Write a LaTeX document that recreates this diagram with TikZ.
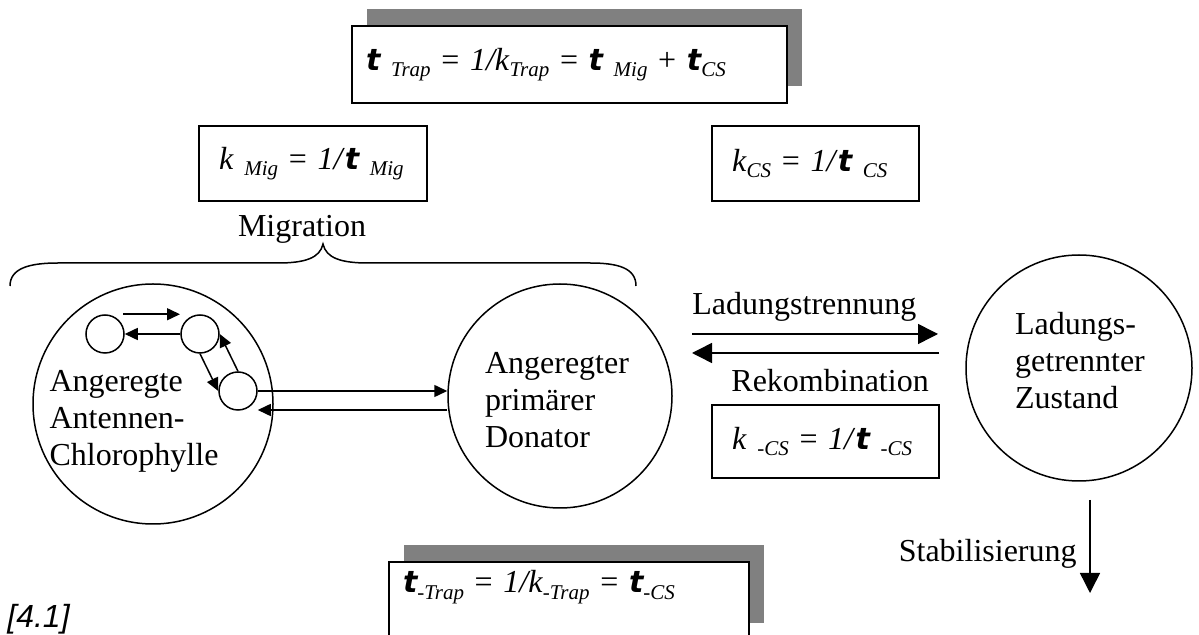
\documentclass[tikz,border=0pt]{standalone}
\usepackage{fontspec}
\setmainfont{Liberation Serif}
\setsansfont{Liberation Sans}
\newfontfamily\taufont{DejaVu Sans}
\usetikzlibrary{positioning, arrows.meta, calc, shadows}

\newcommand{\tsym}{{\fontsize{15}{15}\taufont\bfseries\itshape t}}
\newcommand{\idx}[1]{\raisebox{-3pt}{\fontsize{10.5}{10.5}\selectfont\itshape #1}}

\begin{document}
\begin{tikzpicture}[
        x=0.5pt, y=-0.5pt,
        >={Triangle[length=6.5pt, width=6pt]},
        every node/.style={font=\fontsize{16}{18.5}\selectfont},
        txt/.style={inner sep=0pt, align=left},
        state/.style={circle, draw, line width=0.75pt, inner sep=0pt},
        pigment/.style={circle, draw, line width=0.75pt, minimum size=19pt, inner sep=0pt},
        ratebox/.style={rectangle, draw, line width=0.9pt, align=left, inner xsep=10pt, inner ysep=0pt, fill=white},
        shadowbox/.style={ratebox, inner xsep=7pt, drop shadow={shadow xshift=7.5pt, shadow yshift=8.5pt, fill=black!50, opacity=1}},
        bigarrow/.style={->, line width=0.75pt, >={Triangle[length=10pt, width=10pt]}},
        link/.style={->, line width=0.75pt}
    ]
        \useasboundingbox (0,0) rectangle (1199,635);

        % Nodes
        \node[shadowbox, text width=203.5pt, minimum height=38.5pt] (trapTop) at (569.5,64.5)
            {\tsym{} \idx{Trap} = \textit{1/k}\idx{Trap} = \tsym{} \idx{Mig} + \tsym\idx{CS}};
        \node[ratebox, text width=94pt, minimum height=37.5pt] (kMig) at (313,163.5)
            {\textit{k} \idx{Mig} = \textit{1/}\tsym{} \idx{Mig}};
        \node[ratebox, text width=83.5pt, minimum height=37.5pt] (kCS) at (815.5,163.5)
            {\textit{k}\idx{CS} = \textit{1/}\tsym{} \idx{CS}};

        \node[state, minimum size=120pt] (antenna) at (153,404) {};
        \node[txt] (antennaText) at (134,421) {Angeregte\\Antennen-\\Chlorophylle};
        \node[pigment] (c1) at (105,334) {};
        \node[pigment] (c2) at (200,334) {};
        \node[pigment] (c3) at (238,391) {};

        \node[state, minimum size=112pt] (donor) at (560,396) {};
        \node[txt] (donorText) at ($(donor)+(-3,4)$) {Angeregter\\primärer\\Donator};

        \node[state, minimum size=113pt] (csState) at (1079,368) {};
        \node[txt] (csText) at ($(csState)+(1,-7)$) {Ladungs-\\getrennter\\Zustand};

        \node[ratebox, text width=93.5pt, minimum height=36.5pt] (kMinusCS) at (825.5,441.5)
            {\textit{k} \idx{-CS} = \textit{1/}\tsym{} \idx{-CS}};
        \node[shadowbox, text width=166pt, minimum height=39pt, text height=11pt, text depth=19pt] (trapBottom) at (569,601)
            {\tsym\idx{-Trap} = \textit{1/k}\idx{-Trap} = \tsym\idx{-CS}};

        \node[txt] (migLabel) at (302,229) {Migration};
        \node[txt, anchor=base west] (sepLabel) at (692,315) {Ladungstrennung};
        \node[txt, anchor=base west] (recLabel) at (731,392) {Rekombination};
        \node[txt, anchor=base east] (stabLabel) at (1077,562) {Stabilisierung};
        \node[txt, anchor=base west] (refLabel) at (7,627) {\sffamily\itshape [4.1]};

        \coordinate (sepFrom) at (692,334);
        \coordinate (sepTo) at (938,334);
        \coordinate (recFrom) at (939,353);
        \coordinate (recTo) at (692,353);
        \coordinate (stabFrom) at (1090,500);
        \coordinate (stabTo) at (1090,593);

        % Brace
        \draw[line width=0.75pt] (10,286) .. controls (10,268) and (30,263) .. (58,263) -- (278,263)
            .. controls (305,263) and (320,258) .. (323,244)
            .. controls (326,258) and (341,263) .. (368,263) -- (590,263)
            .. controls (618,263) and (636,268) .. (636,286);

        % Arrows
        \draw[link] ($(c1.north)+(18,0)$) -- ($(c2.north)+(-20,0)$);
        \draw[link] (c2) -- (c1);
        \draw[link] (c2.south) -- (c3.west);
        \draw[link] (c3.north) -- (c2.east);
        \draw[link] (c3.east) -- (c3.east -| donor.west);
        \draw[link] ($(donor.west)+(0,14)$) -- ($(c3.east)+(0,19)$);

        \draw[bigarrow] (sepFrom) -- (sepTo);
        \draw[bigarrow] (recFrom) -- (recTo);
        \draw[bigarrow] (stabFrom) -- (stabTo);

    \end{tikzpicture}
\end{document}
